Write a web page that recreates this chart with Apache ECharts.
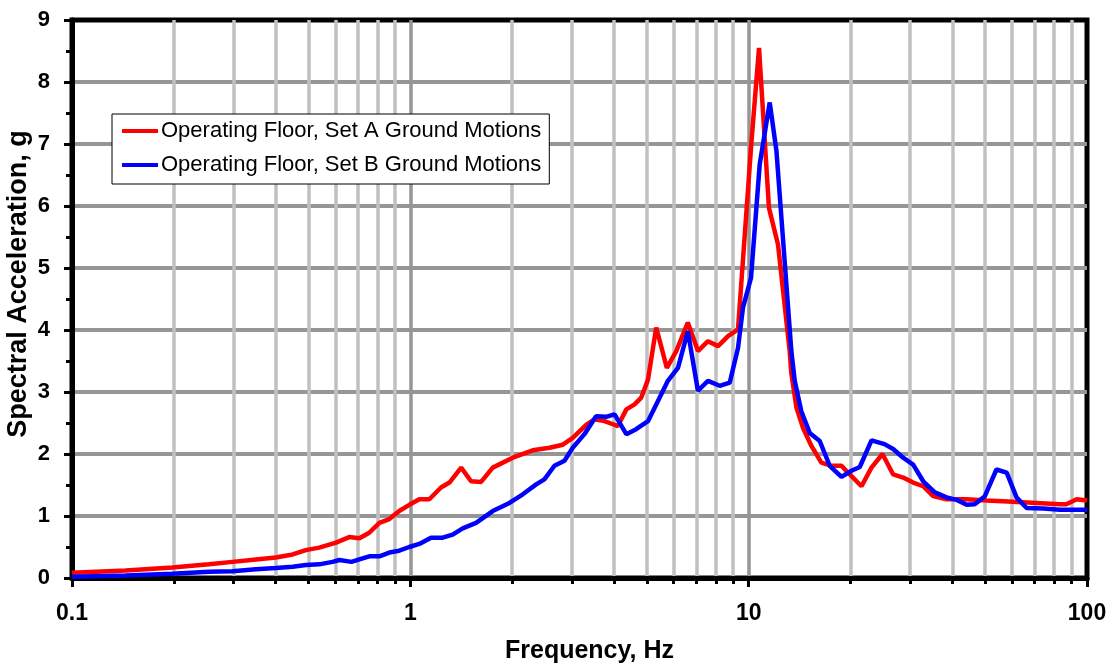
<!DOCTYPE html>
<html>
<head>
<meta charset="utf-8">
<script src="https://cdn.jsdelivr.net/npm/echarts@6/dist/echarts.min.js"></script>
<style>
html,body{margin:0;padding:0;background:#fff;}
#chart{width:1114px;height:669px;}
</style>
</head>
<body>
<div id="chart"></div>
<script>
// Frequency (Hz) / spectral acceleration (g) pairs
const setAFreq = [0.1,0.144,0.198,0.254,0.298,0.35,0.40,0.449,0.491,0.538,0.603,0.66,0.707,0.756,0.81,0.867,0.927,0.993,1.063,1.138,1.232,1.305,1.413,1.512,1.619,1.752,2.008,2.30,2.578,2.822,3.02,3.31,3.50,3.75,3.97,4.105,4.35,4.60,4.815,5.04,5.33,5.73,6.11,6.61,7.08,7.58,8.12,8.69,9.30,10.16,10.73,11.48,12.21,13.22,13.37,13.84,14.48,15.33,16.40,17.57,18.81,19.90,21.55,23.07,24.86,26.73,28.61,30.63,32.8,35.1,38.46,44.1,50.5,60.5,71.0,83.2,86.9,93.2,100];
const setAValues = [0.085,0.12,0.17,0.22,0.26,0.30,0.33,0.38,0.45,0.49,0.57,0.66,0.64,0.73,0.89,0.95,1.08,1.18,1.27,1.27,1.46,1.54,1.78,1.56,1.55,1.78,1.94,2.06,2.10,2.15,2.26,2.47,2.56,2.53,2.48,2.45,2.72,2.80,2.91,3.20,4.04,3.39,3.66,4.12,3.66,3.82,3.74,3.90,4.01,6.94,8.55,5.97,5.38,3.66,3.30,2.75,2.42,2.13,1.86,1.81,1.81,1.67,1.48,1.78,2.00,1.67,1.62,1.54,1.48,1.32,1.27,1.27,1.25,1.23,1.21,1.19,1.19,1.27,1.25];

const setBFreq = [0.1,0.144,0.198,0.254,0.298,0.35,0.40,0.449,0.491,0.538,0.589,0.617,0.67,0.707,0.756,0.81,0.867,0.927,0.993,1.063,1.151,1.246,1.334,1.428,1.564,1.752,1.963,2.15,2.355,2.49,2.667,2.855,3.02,3.27,3.54,3.79,4.015,4.35,4.65,5.04,5.39,5.77,6.18,6.61,7.08,7.58,8.21,8.79,9.30,9.62,10.16,10.78,11.54,12.08,13.37,13.68,14.31,15.15,16.22,17.36,18.81,20.13,21.3,23.07,25.2,26.73,28.61,30.63,32.8,35.5,38.46,41.2,44.1,46.6,49.9,54.0,57.9,61.9,66.3,74.3,83.2,100];
const setBValues = [0.02,0.04,0.07,0.10,0.11,0.14,0.16,0.18,0.21,0.22,0.26,0.29,0.26,0.30,0.35,0.35,0.41,0.44,0.50,0.55,0.65,0.65,0.70,0.80,0.89,1.08,1.21,1.35,1.51,1.59,1.81,1.89,2.10,2.32,2.61,2.60,2.64,2.32,2.40,2.53,2.85,3.18,3.39,3.98,3.02,3.18,3.10,3.15,3.71,4.36,4.84,6.67,7.67,6.89,3.66,3.18,2.69,2.34,2.21,1.81,1.63,1.73,1.79,2.22,2.16,2.08,1.94,1.83,1.56,1.38,1.30,1.26,1.18,1.19,1.32,1.75,1.70,1.30,1.13,1.12,1.10,1.10];

const seriesNames = ['Operating Floor, Set A Ground Motions', 'Operating Floor, Set B Ground Motions'];
const majorTicks = [0.1, 1, 10, 100];
const allTicks = [0.1,0.2,0.3,0.4,0.5,0.6,0.7,0.8,0.9,1,2,3,4,5,6,7,8,9,10,20,30,40,50,60,70,80,90,100];
const xLabels = {0.1:'0.1', 1:'1', 10:'10', 100:'100'};

const pairs = (xs, ys) => xs.map((x, i) => [x, ys[i]]);
const FONT = '"Liberation Sans", Arial, sans-serif';
const DARK = '#969696', LIGHT = '#c0c0c0';

const chart = echarts.init(document.getElementById('chart'), null, {renderer: 'canvas'});
chart.setOption({
  animation: false,
  backgroundColor: '#fff',
  grid: {left: 72, right: 27, top: 20, bottom: 91, containLabel: false, outerBoundsMode: 'none',
    show: true, borderColor: '#000', borderWidth: 5, backgroundColor: 'transparent'},
  legend: {
    orient: 'vertical', left: 112, top: 114,
    backgroundColor: '#fff', borderColor: '#000', borderWidth: 1,
    padding: [6, 8, 8, 10], itemGap: 12,
    itemWidth: 36, itemHeight: 4, icon: 'rect',
    textStyle: {fontFamily: FONT, fontSize: 22, color: '#000', padding: [0, 0, 0, -2]},
    data: seriesNames
  },
  xAxis: [{
    type: 'log', logBase: 10, min: 0.1, max: 100,
    name: 'Frequency, Hz', nameLocation: 'middle', nameGap: 61, nameMoveOverlap: false,
    nameTextStyle: {fontFamily: FONT, fontSize: 25, fontWeight: 'bold', color: '#000', padding: [0, 0, 0, 20]},
    axisLine: {show: true, onZero: false, lineStyle: {color: '#000', width: 5}},
    axisTick: {show: true, inside: false, length: 6, customValues: allTicks, lineStyle: {color: '#000', width: 3}},
    axisLabel: {show: true, margin: 24, customValues: majorTicks, formatter: v => xLabels[v] !== undefined ? xLabels[v] : String(v),
      fontFamily: FONT, fontSize: 23, fontWeight: 'bold', color: '#000'},
    splitLine: {show: true, showMinLine: false, showMaxLine: false,
      lineStyle: {color: [LIGHT, LIGHT, LIGHT, LIGHT, LIGHT, LIGHT, LIGHT, LIGHT, DARK], width: 3.5}},
    minorTick: {show: false}, minorSplitLine: {show: false}
  }, {
    type: 'log', logBase: 10, min: 0.1, max: 100, position: 'bottom',
    axisLine: {show: false},
    axisTick: {show: true, inside: false, length: 9, customValues: majorTicks, lineStyle: {color: '#000', width: 3}},
    axisLabel: {show: false},
    splitLine: {show: false}
  }],
  yAxis: {
    type: 'value', min: 0, max: 9, interval: 1,
    name: 'Spectral Acceleration, g', nameLocation: 'middle', nameGap: 40, nameRotate: 90, nameMoveOverlap: false,
    nameTextStyle: {fontFamily: FONT, fontSize: 27, fontWeight: 'bold', color: '#000', padding: [0, 0, 0, 30]},
    axisLine: {show: true, lineStyle: {color: '#000', width: 5}},
    axisTick: {show: true, inside: false, length: 8, lineStyle: {color: '#000', width: 3}},
    minorTick: {show: true, splitNumber: 2, length: 6, lineStyle: {color: '#000', width: 3}},
    axisLabel: {margin: 22, fontFamily: FONT, fontSize: 22, fontWeight: 'bold', color: '#000'},
    splitLine: {show: true, showMinLine: false, showMaxLine: false, lineStyle: {color: DARK, width: 4}}
  },
  series: [{
    name: seriesNames[0], type: 'line', xAxisIndex: 0, data: pairs(setAFreq, setAValues),
    showSymbol: false, symbol: 'none', smooth: false,
    lineStyle: {color: '#ff0000', width: 4.5}, itemStyle: {color: '#ff0000'}, z: 3
  }, {
    name: seriesNames[1], type: 'line', xAxisIndex: 0, data: pairs(setBFreq, setBValues),
    showSymbol: false, symbol: 'none', smooth: false,
    lineStyle: {color: '#0000ff', width: 4.5}, itemStyle: {color: '#0000ff'}, z: 4
  }]
});
</script>
</body>
</html>
